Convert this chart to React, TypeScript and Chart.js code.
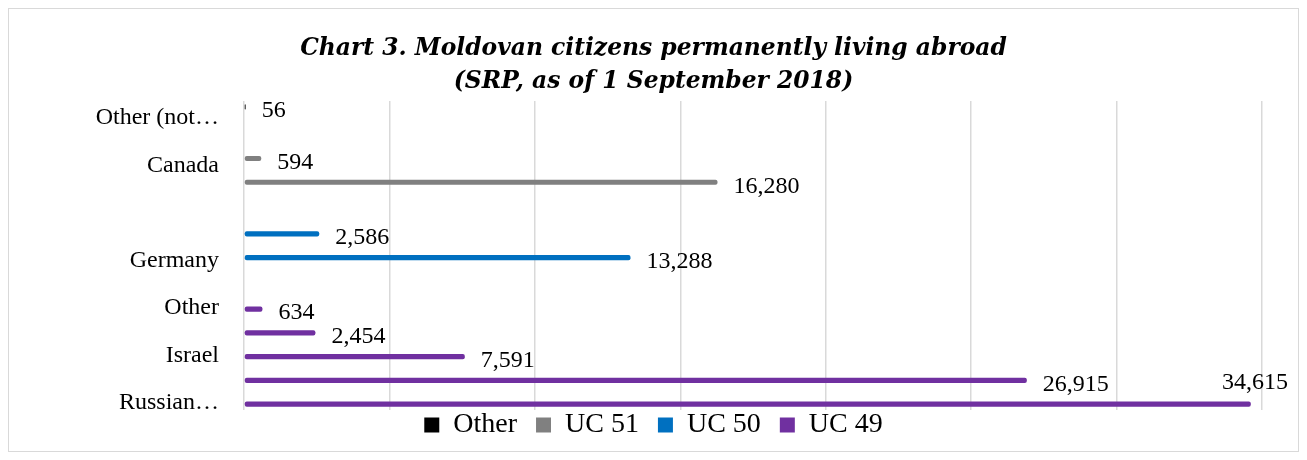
import React, { useEffect, useRef } from "react";
import { Chart, registerables } from "chart.js";

Chart.register(...registerables);

// Category labels, listed top to bottom (Excel shows only every other label)
const categories: string[] = [
  "Other (not…",
  "",
  "Canada",
  "",
  "",
  "",
  "Germany",
  "",
  "Other",
  "",
  "Israel",
  "",
  "Russian…",
];

const seriesNames: string[] = ["Other", "UC 51", "UC 50", "UC 49"];
const seriesColors: string[] = ["#000000", "#808080", "#0070C0", "#7030A0"];

const otherValues: (number | null)[] = [56, null, null, null, null, null, null, null, null, null, null, null, null];
const uc51Values: (number | null)[] = [null, null, 594, 16280, null, null, null, null, null, null, null, null, null];
const uc50Values: (number | null)[] = [null, null, null, null, null, 2586, 13288, null, null, null, null, null, null];
const uc49Values: (number | null)[] = [null, null, null, null, null, null, null, null, 634, 2454, 7591, 26915, 34615];

const xMax = 35000;
const xStep = 5000;

const titleLines: string[] = [
  "Chart 3. Moldovan citizens permanently living abroad",
  "(SRP, as of 1 September 2018)",
];

const valueLabels = {
  id: "valueLabels",
  afterDatasetsDraw(chart: any) {
    const { ctx } = chart;
    ctx.save();
    ctx.font = '24px "Liberation Serif"';
    ctx.fillStyle = "#000";
    ctx.textBaseline = "middle";
    ctx.textAlign = "left";
    chart.data.datasets.forEach((ds: any, i: number) => {
      const meta = chart.getDatasetMeta(i);
      meta.data.forEach((bar: any, j: number) => {
        const v = ds.data[j];
        if (v === null || v === undefined) return;
        const text = Number(v).toLocaleString("en-US");
        const w = ctx.measureText(text).width;
        let x = bar.x + 16;
        let y = bar.y + 4;
        if (x + w > chart.width - 10) {
          x = chart.width - 10 - w;
          y = bar.y - 21;
        }
        ctx.fillText(text, x, y);
      });
    });
    ctx.restore();
  },
};

// Center title and legend over the whole canvas, and pull the legend up a little
const blockAdjust = {
  id: "blockAdjust",
  afterLayout(chart: any) {
    const t = chart.titleBlock;
    if (t) {
      t.left = 0;
      t.right = chart.width;
      t.width = chart.width;
    }
    const l = chart.legend;
    if (l) {
      l.left = 0;
      l.right = chart.width;
      l.width = chart.width;
      l.top -= 18;
      l.bottom -= 18;
    }
  },
};

export default function App() {
  const canvasRef = useRef<HTMLCanvasElement | null>(null);

  useEffect(() => {
    if (!canvasRef.current) return;
    const values = [otherValues, uc51Values, uc50Values, uc49Values];
    const chart = new Chart(canvasRef.current, {
      type: "bar",
      data: {
        labels: categories,
        datasets: seriesNames.map((name, i) => ({
          label: name,
          data: values[i],
          backgroundColor: seriesColors[i],
          borderColor: seriesColors[i],
          borderWidth: 0,
          borderRadius: 2,
          borderSkipped: false,
          categoryPercentage: 0.674,
          barPercentage: 1.3,
        })),
      },
      options: {
        indexAxis: "y",
        animation: false,
        responsive: true,
        maintainAspectRatio: false,
        layout: { padding: { left: 0, right: 36, top: 0, bottom: 0 } },
        scales: {
          x: {
            min: 0,
            max: xMax,
            ticks: { display: false, stepSize: xStep },
            grid: { color: "#d9d9d9", lineWidth: 1.5, drawTicks: false },
            border: { display: false },
          },
          y: {
            ticks: {
              autoSkip: false,
              padding: 25,
              labelOffset: 5,
              color: "#000",
              font: { family: '"Liberation Serif"', size: 24 },
            },
            grid: { display: false, drawTicks: false },
            border: { display: false },
            afterFit(scale: any) {
              scale.width = 235;
            },
          },
        },
        plugins: {
          title: {
            display: true,
            text: titleLines,
            color: "#000",
            font: { family: '"DejaVu Serif"', size: 23.4, weight: "bold", style: "italic", lineHeight: 1.38 },
            padding: { top: 24, bottom: 3.5 },
          },
          legend: {
            display: true,
            position: "bottom",
            maxHeight: 41,
            labels: {
              color: "#000",
              boxWidth: 15,
              boxHeight: 15,
              padding: 19,
              font: { family: '"Liberation Serif"', size: 28 },
            },
          },
          tooltip: { enabled: false },
        },
      },
      plugins: [valueLabels, blockAdjust],
    });
    return () => chart.destroy();
  }, []);

  return (
    <div
      style={{
        width: "100%",
        height: 444,
        border: "1px solid #d9d9d9",
        boxSizing: "border-box",
        background: "#fff",
      }}
    >
      <div style={{ position: "relative", width: 1289, height: 442 }}>
        <canvas ref={canvasRef} />
      </div>
    </div>
  );
}
